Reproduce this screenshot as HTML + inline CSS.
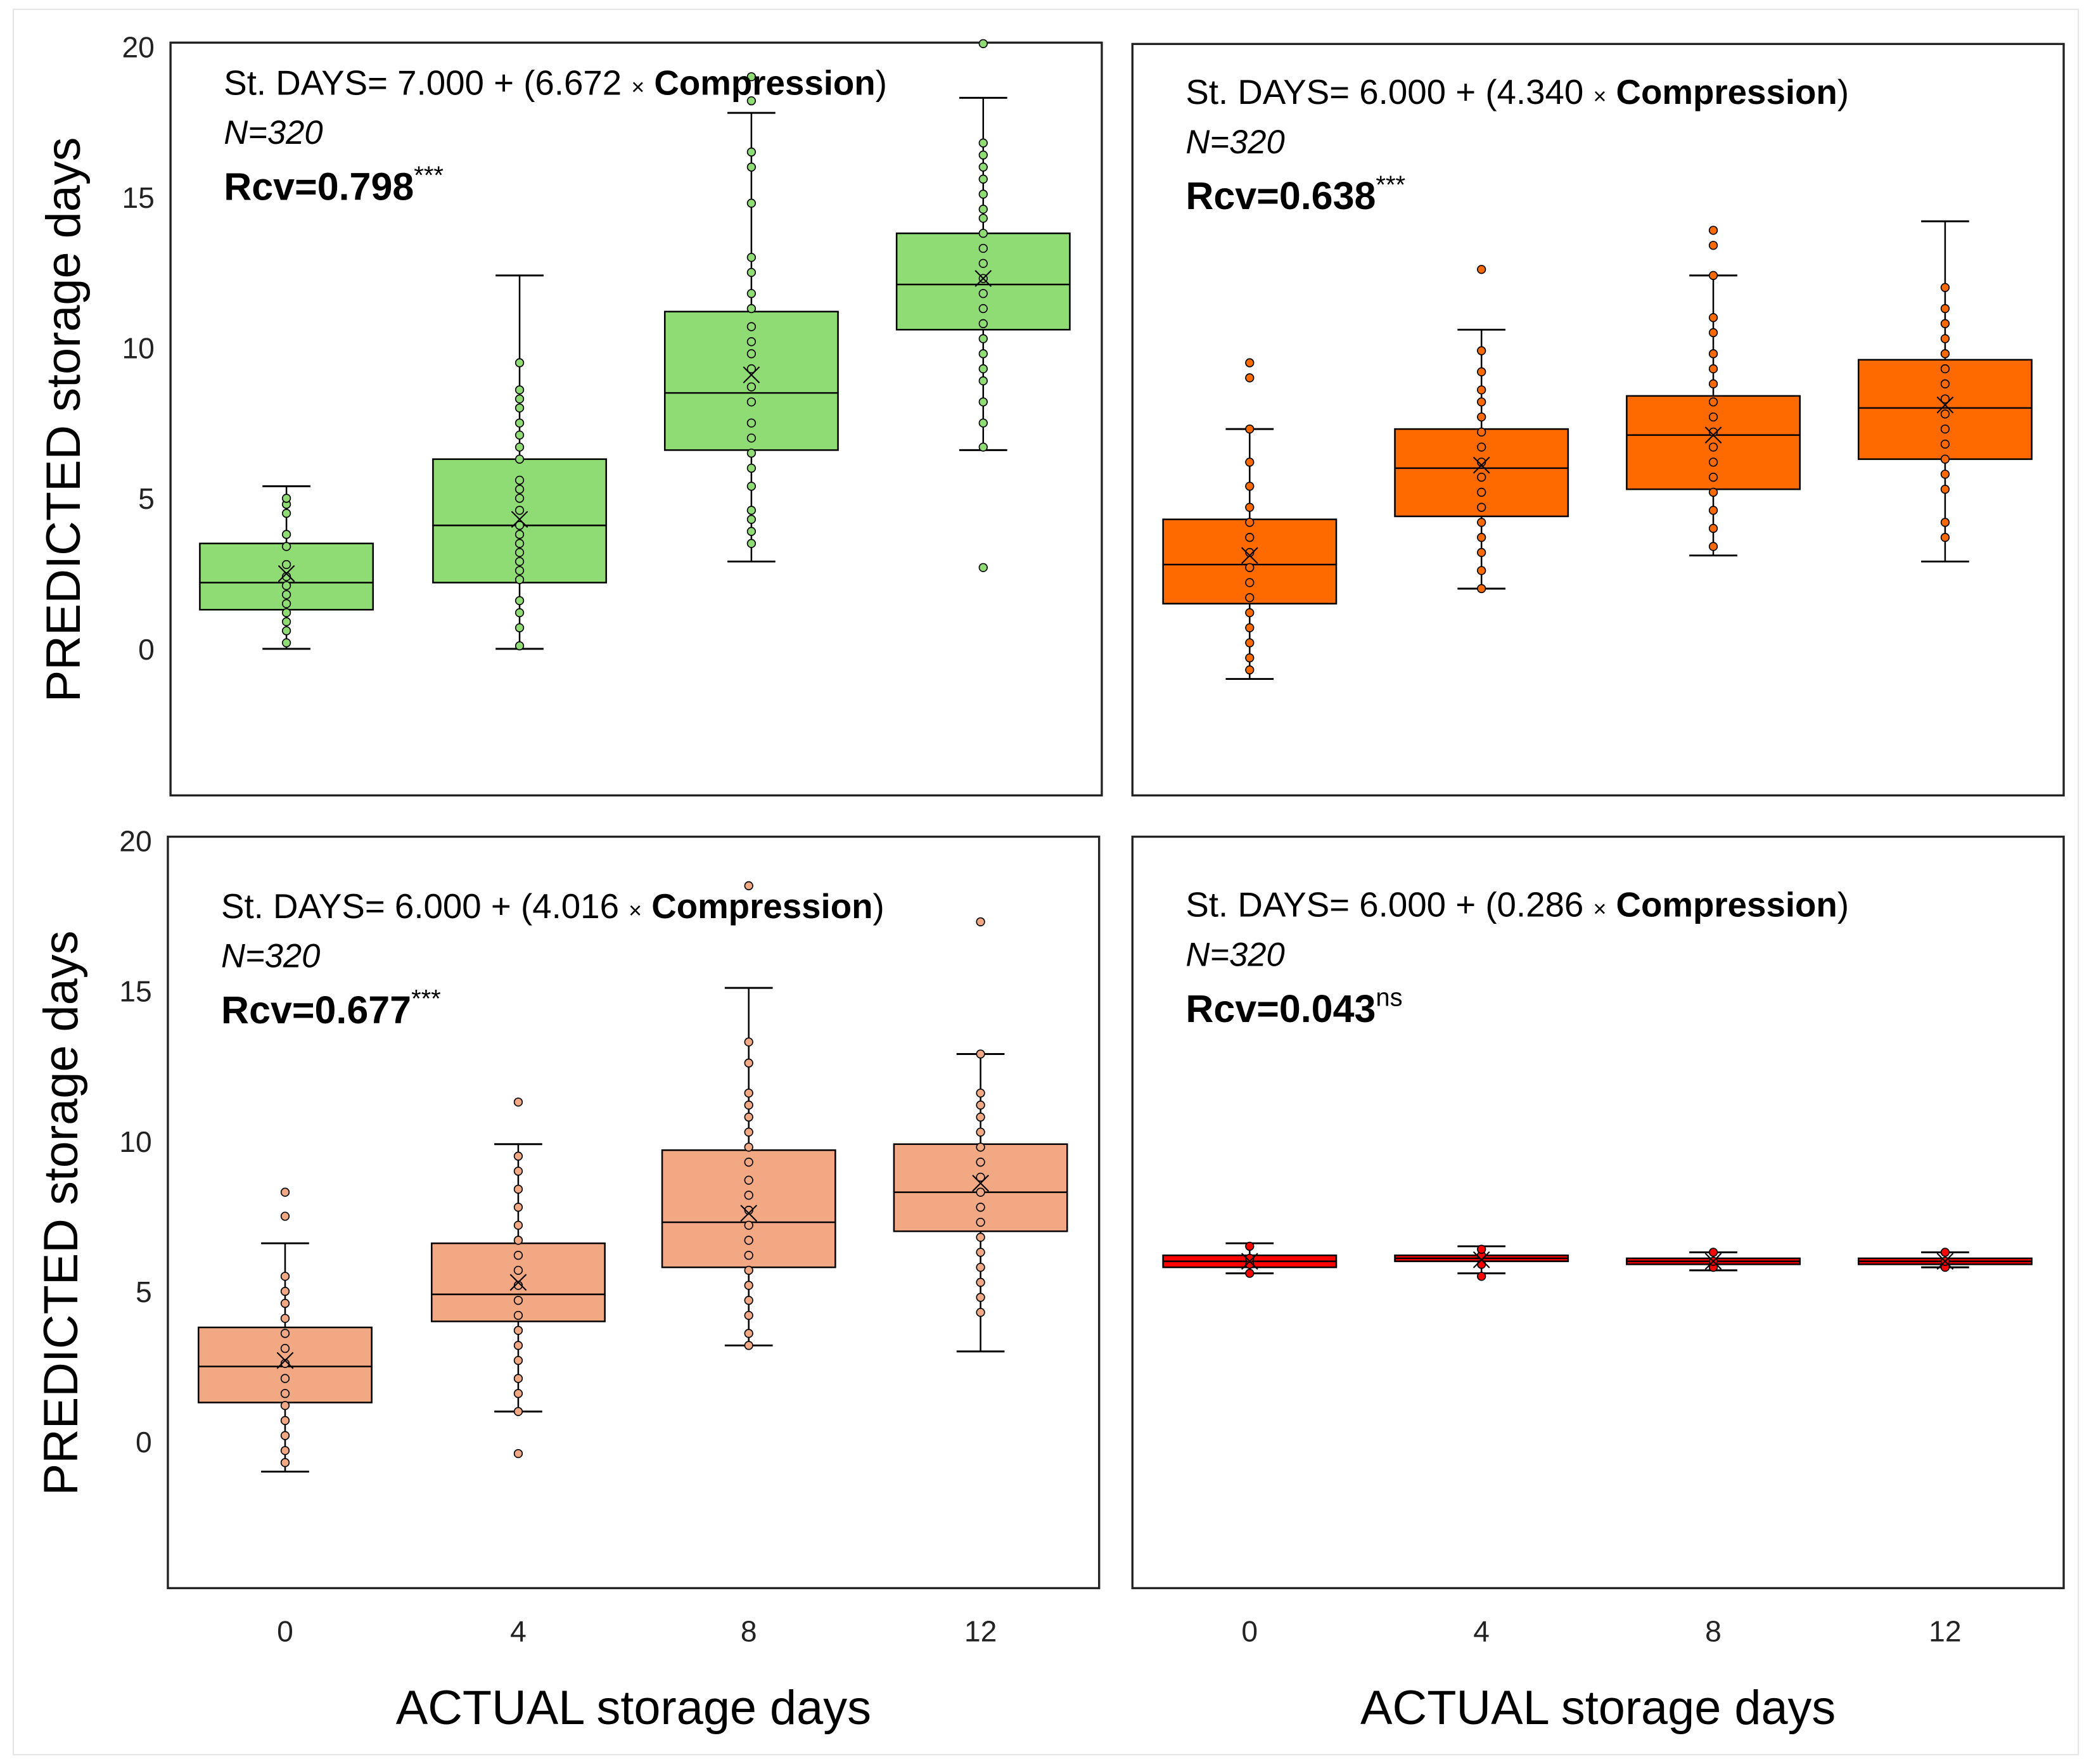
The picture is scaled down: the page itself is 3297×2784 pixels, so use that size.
<!DOCTYPE html>
<html><head><meta charset="utf-8"><style>
html,body{margin:0;padding:0;background:#fff}
svg{display:block}
text{font-family:"Liberation Sans",sans-serif}
</style></head><body>
<svg id="fig" width="3297" height="2784" viewBox="0 0 1568 1324" preserveAspectRatio="none" xmlns="http://www.w3.org/2000/svg">
<rect x="10" y="7" width="1550" height="1310" fill="#fff" stroke="#e4e4e4" stroke-width="1"/>
</svg>
<script>
const categories = ["0","4","8","12"];
const yTicks = [0,5,10,15,20];
// per panel: [lo, q1, median, q3, hi, mean] for each category
const p1Stats = [[0,1.3,2.2,3.5,5.4,2.5],[0,2.2,4.1,6.3,12.4,4.3],[2.9,6.6,8.5,11.2,17.8,9.1],[6.6,10.6,12.1,13.8,18.3,12.3]];
const p2Stats = [[-1.0,1.5,2.8,4.3,7.3,3.1],[2.0,4.4,6.0,7.3,10.6,6.1],[3.1,5.3,7.1,8.4,12.4,7.1],[2.9,6.3,8.0,9.6,14.2,8.1]];
const p3Stats = [[-1.0,1.3,2.5,3.8,6.6,2.7],[1.0,4.0,4.9,6.6,9.9,5.3],[3.2,5.8,7.3,9.7,15.1,7.6],[3.0,7.0,8.3,9.9,12.9,8.6]];
const p4Stats = [[5.6,5.8,6.0,6.2,6.6,6.0],[5.6,6.0,6.1,6.2,6.5,6.05],[5.7,5.9,6.0,6.1,6.3,6.0],[5.8,5.9,6.0,6.1,6.3,6.0]];
// dot values per category
const p1Dots = [[0.2,0.6,0.9,1.2,1.5,1.8,2.1,2.4,2.8,3.4,3.8,4.5,4.8,5.0],
 [0.1,0.7,1.2,1.6,2.3,2.6,2.9,3.2,3.5,3.8,4.1,4.6,5.0,5.3,5.6,6.3,6.7,7.1,7.5,8.0,8.3,8.6,9.5],
 [3.5,3.9,4.3,4.6,5.4,6.0,6.5,7.0,7.5,8.2,8.7,9.3,9.8,10.2,10.7,11.3,11.8,12.5,13.0,14.8,16.0,16.5,18.2,19.0],
 [2.7,6.7,7.5,8.2,8.9,9.3,9.8,10.3,10.8,11.3,11.8,12.3,12.8,13.3,13.8,14.3,14.6,15.1,15.6,16.0,16.4,16.8,20.1]];
const p2Dots = [[-0.7,-0.3,0.2,0.7,1.2,1.7,2.2,2.7,3.2,3.7,4.2,4.7,5.4,6.2,7.3,9.0,9.5],
 [2.0,2.6,3.2,3.7,4.2,4.7,5.2,5.7,6.2,6.7,7.2,7.7,8.2,8.6,9.2,9.9,12.6],
 [3.4,4.0,4.6,5.2,5.7,6.2,6.7,7.2,7.7,8.2,8.8,9.3,9.8,10.5,11.0,12.4,13.4,13.9],
 [3.7,4.2,5.3,5.8,6.3,6.8,7.3,7.8,8.3,8.8,9.3,9.8,10.3,10.8,11.3,12.0]];
const p3Dots = [[-0.7,-0.3,0.2,0.7,1.2,1.6,2.1,2.6,3.1,3.6,4.1,4.6,5.0,5.5,7.5,8.3],
 [-0.4,1.0,1.6,2.1,2.7,3.2,3.7,4.2,4.7,5.2,5.7,6.2,6.7,7.2,7.8,8.4,9.0,9.5,11.3],
 [3.2,3.6,4.2,4.7,5.2,5.7,6.2,6.7,7.2,7.7,8.2,8.7,9.3,9.8,10.3,10.8,11.2,11.6,12.6,13.3,18.5],
 [4.3,4.8,5.3,5.8,6.3,6.8,7.3,7.8,8.3,8.8,9.3,9.8,10.3,10.8,11.2,11.6,12.9,17.3]];
const p4Dots = [[5.6,5.9,6.1,6.5],[5.5,5.9,6.2,6.4],[5.8,6.0,6.3],[5.8,6.0,6.3]];

const NS="http://www.w3.org/2000/svg";
const svg=document.getElementById('fig');
function mk(tag,attrs,parent){const e=document.createElementNS(NS,tag);for(const k in attrs)e.setAttribute(k,attrs[k]);(parent||svg).appendChild(e);return e;}

const panels=[
 {x0:128,x1:827,y0:32,y1:597,zero:487,twenty:35,fill:"#8fdb74",stats:p1Stats,dots:p1Dots,cx:[215,390,564,738],name:"panel-top-left",eq:["7.000","6.672"],r:"0.798",sig:"***",ty:62,yAxis:true},
 {x0:850,x1:1549,y0:33,y1:597,zero:487,twenty:35,fill:"#ff6a00",stats:p2Stats,dots:p2Dots,cx:[938,1112,1286,1460],name:"panel-top-right",eq:["6.000","4.340"],r:"0.638",sig:"***",ty:69,yAxis:false},
 {x0:126,x1:825,y0:628,y1:1192,zero:1082,twenty:631,fill:"#f2a983",stats:p3Stats,dots:p3Dots,cx:[214,389,562,736],name:"panel-bottom-left",eq:["6.000","4.016"],r:"0.677",sig:"***",ty:680,yAxis:true,xAxis:true},
 {x0:850,x1:1549,y0:628,y1:1192,zero:1082,twenty:631,fill:"#ff0000",stats:p4Stats,dots:p4Dots,cx:[938,1112,1286,1460],name:"panel-bottom-right",eq:["6.000","0.286"],r:"0.043",sig:"ns",ty:679,yAxis:false,xAxis:true}
];

panels.forEach(p=>{
 const g=mk('g',{});
 
 
 const y=v=>p.zero-(p.zero-p.twenty)*v/20;
 const fr=mk('rect',{x:p.x0,y:p.y0,width:p.x1-p.x0,height:p.y1-p.y0,fill:"#fff",stroke:"#222","stroke-width":1.6},g);
 
 
 if(p.yAxis){
  yTicks.forEach(t=>{const tx=mk('text',{x:p.x0-12,y:y(t)+8,"text-anchor":"end","font-size":22,fill:"#222"},g);tx.textContent=t;
   
   });
  const yl=mk('text',{x:0,y:0,transform:`translate(${p.x0-68},${(p.zero+p.twenty)/2+54}) rotate(-90)`,"text-anchor":"middle","font-size":36,fill:"#000"},g);
  yl.textContent="PREDICTED storage days";
  
  
 }
 if(p.xAxis){
  categories.forEach((c,i)=>{const tx=mk('text',{x:p.cx[i],y:1232,"text-anchor":"middle","font-size":22,fill:"#222"},g);tx.textContent=c;
   
   });
  const xl=mk('text',{x:(p.x0+p.x1)/2,y:1294,"text-anchor":"middle","font-size":36,fill:"#000"},g);
  xl.textContent="ACTUAL storage days";
  
  
 }
 const bw=130;
 p.stats.forEach((s,i)=>{
  const cx=p.cx[i];
  const bg=mk('g',{},g);
  
  
  mk('line',{x1:cx,x2:cx,y1:y(s[0]),y2:y(s[4]),stroke:"#000","stroke-width":1.2},bg);
  mk('line',{x1:cx-18,x2:cx+18,y1:y(s[0]),y2:y(s[0]),stroke:"#000","stroke-width":1.4},bg);
  mk('line',{x1:cx-18,x2:cx+18,y1:y(s[4]),y2:y(s[4]),stroke:"#000","stroke-width":1.4},bg);
  mk('rect',{x:cx-bw/2,y:y(s[3]),width:bw,height:Math.max(1,y(s[1])-y(s[3])),fill:p.fill,stroke:"#000","stroke-width":1.2},bg);
  mk('line',{x1:cx-bw/2,x2:cx+bw/2,y1:y(s[2]),y2:y(s[2]),stroke:"#000","stroke-width":1.2},bg);
  p.dots[i].forEach(v=>{const d=mk('circle',{cx:cx,cy:y(v),r:3,fill:p.fill,stroke:"#000","stroke-width":0.8},bg);
   
   });
  const my=y(s[5]);
  mk('path',{d:`M${cx-6} ${my-6}L${cx+6} ${my+6}M${cx-6} ${my+6}L${cx+6} ${my-6}`,stroke:"#000","stroke-width":1,fill:"none"},bg);
 });
 const tx0=p.x0+40;
 const eq=mk('text',{x:tx0,y:p.ty+9,"font-size":26,fill:"#000"},g);
 eq.innerHTML=`St. DAYS= ${p.eq[0]} + (${p.eq[1]} <tspan font-size="17">×</tspan> <tspan font-weight="bold">Compression</tspan>)`;
 
 
 const n=mk('text',{x:tx0,y:p.ty+46,"font-size":25,"font-style":"italic",fill:"#000"},g);
 n.textContent="N=320";
 
 
 const r=mk('text',{x:tx0,y:p.ty+88,"font-size":29,"font-weight":"bold",fill:"#000"},g);
 r.innerHTML=`Rcv=${p.r}<tspan font-size="19" font-weight="normal" dy="-12">${p.sig}</tspan>`;
 
 
});
</script>
</body></html>
